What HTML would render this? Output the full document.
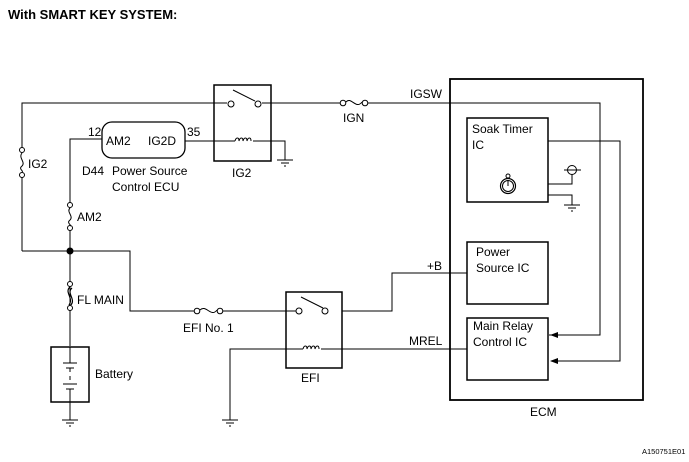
<!DOCTYPE html>
<html><head><meta charset="utf-8"><style>
html,body{margin:0;padding:0;background:#fff;}
svg{display:block;font-family:"Liberation Sans",Arial,sans-serif;}
</style></head><body>
<svg width="689" height="462" viewBox="0 0 689 462" xmlns="http://www.w3.org/2000/svg">
<defs>
<marker id="ar" markerWidth="8" markerHeight="6" refX="7" refY="3" orient="auto" markerUnits="userSpaceOnUse"><path d="M0,0 L8,3 L0,6 z" fill="#000"/></marker>
</defs>
<text x="8" y="19" font-size="13" font-weight="bold">With SMART KEY SYSTEM:</text>
<g stroke="#000" stroke-width="1" fill="none">
<!-- top wire -->
<path d="M22,251 V177 M22,148 V103 H227 M262,103 H341 M367,103 H600 V335 H549" />
<path d="M600,335 H551" marker-end="url(#ar)"/>
<!-- IG2 fuse -->
<circle cx="22" cy="150" r="2.5" fill="#fff"/><circle cx="22" cy="175" r="2.5" fill="#fff"/>
<path d="M22,153 C18,158 26,162 22,166 C18,169 24,171 22,172"/>
<!-- IG2 relay -->
<rect x="214" y="85" width="57" height="76" stroke-width="1.5"/>
<circle cx="231" cy="104" r="3" fill="#fff"/><circle cx="258" cy="104" r="3" fill="#fff"/>
<path d="M233,90 L255,101"/>
<path d="M185,141 H235 M253,141 H285 V160"/>
<path d="M235,141 c1,-4 4,-4 4,0 c1,-4 4,-4 4,0 c1,-4 4,-4 4,0 c1,-4 4,-4 4,0 " />
<path d="M277,160 H293 M281,163 H289 M284,166 H286"/>
<!-- ECU -->
<rect x="102" y="122" width="83" height="36" rx="10" stroke-width="1.3"/>
<path d="M102,139 H70 V203 M70,230 V346"/>
<circle cx="70" cy="205" r="2.5" fill="#fff"/><circle cx="70" cy="228" r="2.5" fill="#fff"/>
<path d="M70,208 C66,212 74,216 70,220 C66,223 72,225 70,226"/>
<path d="M22,251 H130 V311 H194 M223,311 H297"/>
<circle cx="70" cy="251" r="3" fill="#000"/>
<!-- FL MAIN -->
<circle cx="70" cy="284" r="2.5" fill="#fff"/><circle cx="70" cy="308" r="2.5" fill="#fff"/>
<path d="M70,287 C64,292 74,298 69,305 M72,288 C66,293 76,299 71,305" stroke-width="1.2"/>
<!-- EFI No.1 fuse -->
<circle cx="197" cy="311" r="2.8" fill="#fff"/><circle cx="220" cy="311" r="2.8" fill="#fff"/>
<path d="M200,310 C206,304 211,318 217,310"/>
<path d="M342,311 H392 V273 H467"/>
<!-- battery -->
<rect x="51" y="347" width="38" height="55" stroke-width="1.5"/>
<path d="M70,347 V363 M63,363 H77 M66,368 H74 M70,368 V372 M70,376 V380 M63,384 H77 M66,389 H74 M70,389 V420"/>
<path d="M62,420 H78 M66,423 H74 M69,426 H71"/>
<!-- IGN fuse -->
<circle cx="343" cy="103" r="2.8" fill="#fff"/><circle cx="365" cy="103" r="2.8" fill="#fff"/>
<path d="M346,102 C351,96 356,110 362,102"/>
<!-- EFI relay -->
<rect x="286" y="292" width="56" height="76" stroke-width="1.5"/>
<circle cx="299" cy="311" r="3" fill="#fff"/><circle cx="325" cy="311" r="3" fill="#fff"/>
<path d="M301,297 L323,308"/>
<path d="M230,420 V349 H303 M321,349 H467"/>
<path d="M303,349 c1,-4 4,-4 4,0 c1,-4 4,-4 4,0 c1,-4 4,-4 4,0 c1,-4 4,-4 4,0 "/>
<path d="M222,420 H238 M226,423 H234 M229,426 H231"/>
<!-- ECM -->
<rect x="450" y="79" width="193" height="321" stroke-width="1.8"/>
<rect x="467" y="118" width="81" height="84" stroke-width="1.5"/>
<rect x="467" y="242" width="81" height="62" stroke-width="1.5"/>
<rect x="467" y="318" width="81" height="62" stroke-width="1.5"/>
<path d="M548,141 H620 V361 H551" marker-end="url(#ar)"/>
<path d="M548,184 H572 V174"/>
<circle cx="572" cy="170" r="4.5"/>
<path d="M564,170 H581"/>
<path d="M548,195 H572 V205 M564,205 H580 M568,208 H576 M571,211 H573"/>
<!-- stopwatch -->
<circle cx="508" cy="186" r="7.5" stroke-width="1.2"/>
<circle cx="508" cy="186" r="5.5"/>
<circle cx="508" cy="176" r="2"/>
<path d="M508,186 V181"/>
</g>
<g font-size="12" fill="#000">
<text x="88" y="136">12</text>
<text x="106" y="145">AM2</text>
<text x="148" y="145">IG2D</text>
<text x="187" y="136">35</text>
<text x="82" y="175">D44</text>
<text x="112" y="175">Power Source</text>
<text x="112" y="191">Control ECU</text>
<text x="28" y="168">IG2</text>
<text x="77" y="221">AM2</text>
<text x="77" y="304">FL MAIN</text>
<text x="232" y="177">IG2</text>
<text x="343" y="122">IGN</text>
<text x="410" y="98">IGSW</text>
<text x="427" y="270">+B</text>
<text x="409" y="345">MREL</text>
<text x="183" y="332">EFI No. 1</text>
<text x="301" y="382">EFI</text>
<text x="95" y="378">Battery</text>
<text x="472" y="133">Soak Timer</text>
<text x="472" y="149">IC</text>
<text x="476" y="256">Power</text>
<text x="476" y="272">Source IC</text>
<text x="473" y="330">Main Relay</text>
<text x="473" y="346">Control IC</text>
<text x="530" y="416">ECM</text>
</g>
<text x="642" y="454" font-size="7.5">A150751E01</text>
</svg>
</body></html>
